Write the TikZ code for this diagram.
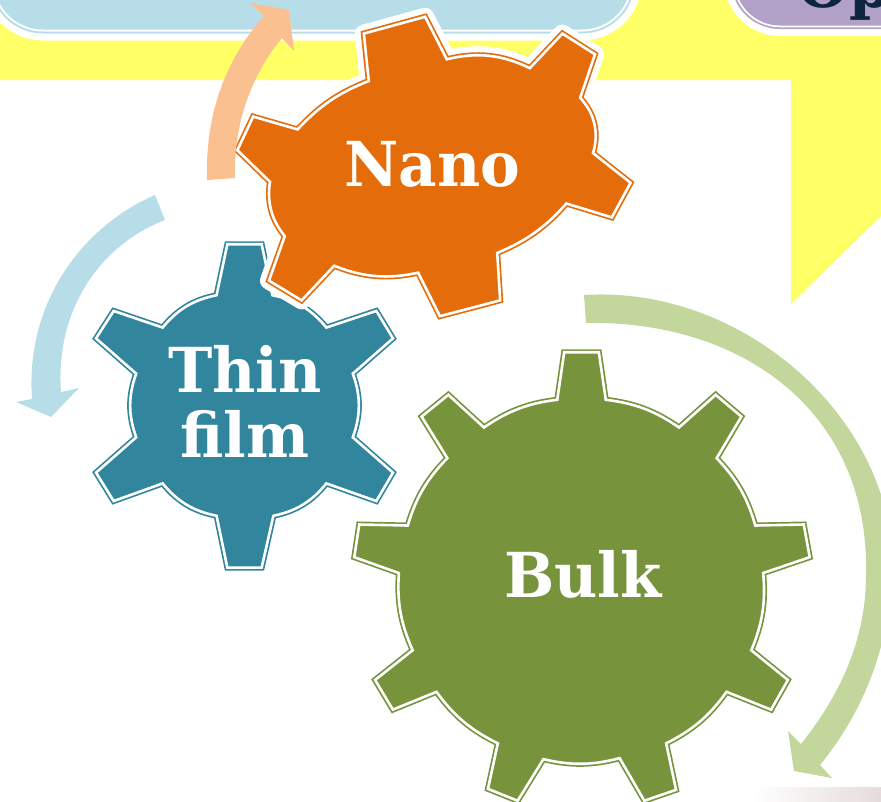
\documentclass[tikz,border=0pt]{standalone}
\usepackage{fontspec}
\setmainfont[FakeStretch=0.96]{DejaVu Serif}
\definecolor{ybg}{HTML}{FFFF66}
\definecolor{lblue}{HTML}{B7DEE8}
\definecolor{lpurple}{HTML}{B2A1C7}
\definecolor{navy}{HTML}{0F243E}
\definecolor{cnano}{HTML}{E46C0A}
\definecolor{cthin}{HTML}{31859C}
\definecolor{cbulk}{HTML}{77933C}
\definecolor{anano}{HTML}{FAC090}
\definecolor{abulk}{HTML}{C3D69B}
\definecolor{pinkend}{HTML}{E6DBDB}
\tikzset{
  gear/.style={fill=#1,draw=#1,line width=1.7pt,double=white,double distance=2.6pt,line join=miter,miter limit=10},
  gearlabel/.style={text=white,font=\fontsize{62}{65}\selectfont\bfseries,inner sep=0pt,align=center},
  gb/.style={bend left=#1,looseness=.95}
}
\begin{document}
\begin{tikzpicture}[x=1pt,y=-1pt]
\useasboundingbox (0,0) rectangle (881,801);
\clip (0,0) rectangle (881,801);
% background
\fill[ybg] (0,0) -- (881,0) -- (881,216) -- (791,304) -- (791,80) -- (0,80) -- cycle;
\fill[pinkend,left color=white,right color=pinkend] (752,787) rectangle (881,801);
% top boxes
\fill[white,rounded corners=60pt] (-17,-100) rectangle (642,40.5);
\fill[lblue,rounded corners=53pt] (-10,-100) rectangle (635,33.5);
\fill[white,rounded corners=51pt] (-8,-100) rectangle (633,31.5);
\fill[lblue,rounded corners=49pt] (-6,-100) rectangle (631,29.5);
\fill[white,rounded corners=56pt] (724,-100) rectangle (990,36);
\fill[lpurple,rounded corners=49pt] (731,-100) rectangle (990,29);
\fill[white,rounded corners=47pt] (733,-100) rectangle (990,27.3);
\fill[lpurple,rounded corners=45pt] (735,-100) rectangle (990,25.5);
\node[text=navy,font=\fontsize{62}{65}\selectfont\bfseries,anchor=base west,inner sep=0pt] (op) at (797,7) {Op};
% thin film gear
\begin{scope}[shift={(244.5,405.5)},scale=.98,shift={(-244.5,-405.5)}]
\path[gear=cthin] (227,241) -- (262,241) -- (273,293) to[gb=20] (328,326) -- (379,309) -- (396,337) -- (355,373)
  to[gb=20] (355,438) -- (396,474) -- (379,503) -- (328,485) to[gb=20] (274,518) -- (262,571) -- (227,571) -- (216,518)
  to[gb=20] (161,485) -- (111,503) -- (93,474) -- (134,438) to[gb=20] (134,373) -- (93,337) -- (111,309) -- (161,326)
  to[gb=20] (216,293) -- cycle;
\end{scope}
% nano gear
\begin{scope}[shift={(432,165)},scale=.988,shift={(-432,-165)}]
\path[gear=cnano,preaction={draw=white,line width=18pt,line join=round}]
  (363,32) -- (425,15) -- (447,58) to[gb=20] (531,67) -- (564,32) -- (597,53) -- (582,97) to[gb=30] (595,153)
  -- (633,183) -- (614,218) -- (568,204) to[gb=13] (498,254) -- (501,302) -- (440,318) -- (418,274) to[gb=17] (333,267)
  -- (300,302) -- (267,282) -- (283,237) to[gb=24] (268,182) -- (235,150) -- (251,116) -- (296,129) to[gb=13] (368,80) -- cycle;
\end{scope}
% bulk gear
\begin{scope}[shift={(582,575)},scale=.99,shift={(-582,-575)}]
\path[gear=cbulk] (564,350) -- (599,350) -- (606,398) to[gb=14] (680,426) -- (717,393) -- (743,415) -- (718,457)
  to[gb=14] (757,525) -- (806,524) -- (812,557) -- (765,573) to[gb=14] (753,651) -- (790,681) -- (773,711) -- (728,693)
  to[gb=14] (667,745) -- (677,792) -- (645,803) -- (620,760) to[gb=14] (543,761) -- (517,803) -- (487,791) -- (497,745)
  to[gb=14] (435,693) -- (391,711) -- (373,681) -- (411,651) to[gb=14] (397,573) -- (352,557) -- (357,524) -- (406,525)
  to[gb=14] (446,457) -- (420,415) -- (447,393) -- (483,426) to[gb=14] (557,398) -- cycle;
\end{scope}
% labels
\node[gearlabel,anchor=base] (nano) at (432,186) {Nano};
\node[gearlabel,anchor=base] (thin) at (245,392) {Thin};
\node[gearlabel,anchor=base] (film) at (245,457) {film};
\node[gearlabel,anchor=base] (bulk) at (583,597) {Bulk};
% cycle arrows
\fill[anano] (207,180) .. controls (205,115) and (225,60) .. (264,16) -- (251,3) -- (289,10) -- (294,51) -- (282,38)
  .. controls (255,70) and (233,120) .. (235,178) -- cycle;
\fill[lblue] (155,195) .. controls (85,225) and (25,300) .. (32,399) -- (16,402) -- (51,417) -- (79,388) -- (61,392)
  .. controls (55,310) and (100,245) .. (165,220) -- cycle;
\fill[abulk] (584,295) .. controls (745,285) and (892,420) .. (892,563)
  .. controls (892,640) and (865,710) .. (820,765)
  -- (832,778) -- (794,771) -- (788,731) -- (801,744)
  .. controls (840,695) and (866,640) .. (866,575)
  .. controls (870,410) and (740,320) .. (586,323) -- cycle;
\end{tikzpicture}
\end{document}
